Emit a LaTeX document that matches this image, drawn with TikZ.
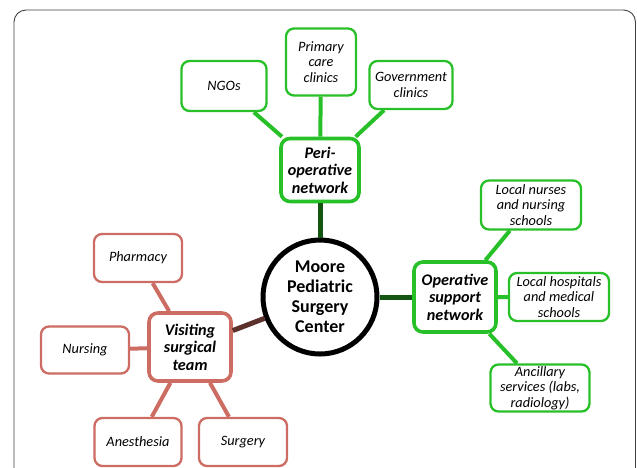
\documentclass[tikz,border=0pt]{standalone}
\usepackage{fontspec}
\setmainfont{Carlito}
\definecolor{netgreen}{RGB}{40,192,40}
\definecolor{teamred}{RGB}{204,108,98}
\begin{document}
\begin{tikzpicture}[x=1pt,y=-1pt,
    hub/.style={draw,rounded corners=9pt,line width=3.6pt,align=center,inner sep=1pt,
      font=\fontsize{16.2}{17.5}\selectfont\bfseries\itshape},
    leaf/.style={draw,rounded corners=8pt,line width=2.3pt,align=center,inner sep=1pt,
      font=\fontsize{14.3}{15.5}\selectfont\itshape},
    twig/.style={line width=4pt},
    limb/.style={line width=5pt}]
	\useasboundingbox (0,0) rectangle (637,467);
	\draw[black!75,line width=0.9pt,rounded corners=12pt] (14,10) rectangle (635.5,520);
	% centre
	\node[circle,draw,line width=5pt,minimum size=114pt,align=center,inner sep=0pt,
	  font=\fontsize{18}{20}\selectfont\bfseries] (center) at (320,297) {Moore\\Pediatric\\Surgery\\Center};
	% peri-operative network
	\node[hub,netgreen,minimum width=78pt,minimum height=63pt] (peri) at (320,170) {\textcolor{black}{Peri-}\\\textcolor{black}{operative}\\\textcolor{black}{network}};
	\node[leaf,netgreen,minimum width=85pt,minimum height=50pt] (ngo) at (224,86) {\textcolor{black}{NGOs}};
	\node[leaf,netgreen,minimum width=70pt,minimum height=67pt] (primary) at (321,62) {\textcolor{black}{Primary}\\\textcolor{black}{care}\\\textcolor{black}{clinics}};
	\node[leaf,netgreen,minimum width=83pt,minimum height=48pt] (govt) at (411,85) {\textcolor{black}{Government}\\\textcolor{black}{clinics}};
	% operative support network
	\node[hub,netgreen,minimum width=82pt,minimum height=70pt] (oper) at (455,297) {\textcolor{black}{Operative}\\\textcolor{black}{support}\\\textcolor{black}{network}};
	\node[leaf,netgreen,minimum width=100pt,minimum height=49pt] (nurses) at (531,205) {\textcolor{black}{Local nurses}\\\textcolor{black}{and nursing}\\\textcolor{black}{schools}};
	\node[leaf,netgreen,minimum width=100pt,minimum height=48pt] (hosp) at (559,297) {\textcolor{black}{Local hospitals}\\\textcolor{black}{and medical}\\\textcolor{black}{schools}};
	\node[leaf,netgreen,minimum width=99pt,minimum height=47pt] (ancil) at (540,388) {\textcolor{black}{Ancillary}\\\textcolor{black}{services (labs,}\\\textcolor{black}{radiology)}};
	% visiting surgical team
	\node[hub,teamred,minimum width=82pt,minimum height=68pt] (team) at (190,347) {\textcolor{black}{Visiting}\\\textcolor{black}{surgical}\\\textcolor{black}{team}};
	\node[leaf,teamred,minimum width=88pt,minimum height=48pt] (pharm) at (138,258) {\textcolor{black}{Pharmacy}};
	\node[leaf,teamred,minimum width=88pt,minimum height=47pt] (nursing) at (85,350) {\textcolor{black}{Nursing}};
	\node[leaf,teamred,minimum width=87pt,minimum height=48pt] (anest) at (138,442) {\textcolor{black}{Anesthesia}};
	\node[leaf,teamred,minimum width=88pt,minimum height=48pt] (surg) at (243,442) {\textcolor{black}{Surgery}};
	% connectors
	\draw[limb,black!55!netgreen] (center) -- (peri);
	\draw[limb,black!55!netgreen] (center) -- (oper);
	\draw[limb,black!55!teamred] (center) -- (team);
	\draw[twig,netgreen] (peri) -- (ngo) (peri) -- (primary) (peri) -- (govt);
	\draw[twig,netgreen] (oper) -- (nurses) (oper) -- (hosp) (oper) -- (ancil);
	\draw[twig,teamred] (team) -- (pharm) (team) -- (nursing) (team) -- (anest) (team) -- (surg);
\end{tikzpicture}
\end{document}
